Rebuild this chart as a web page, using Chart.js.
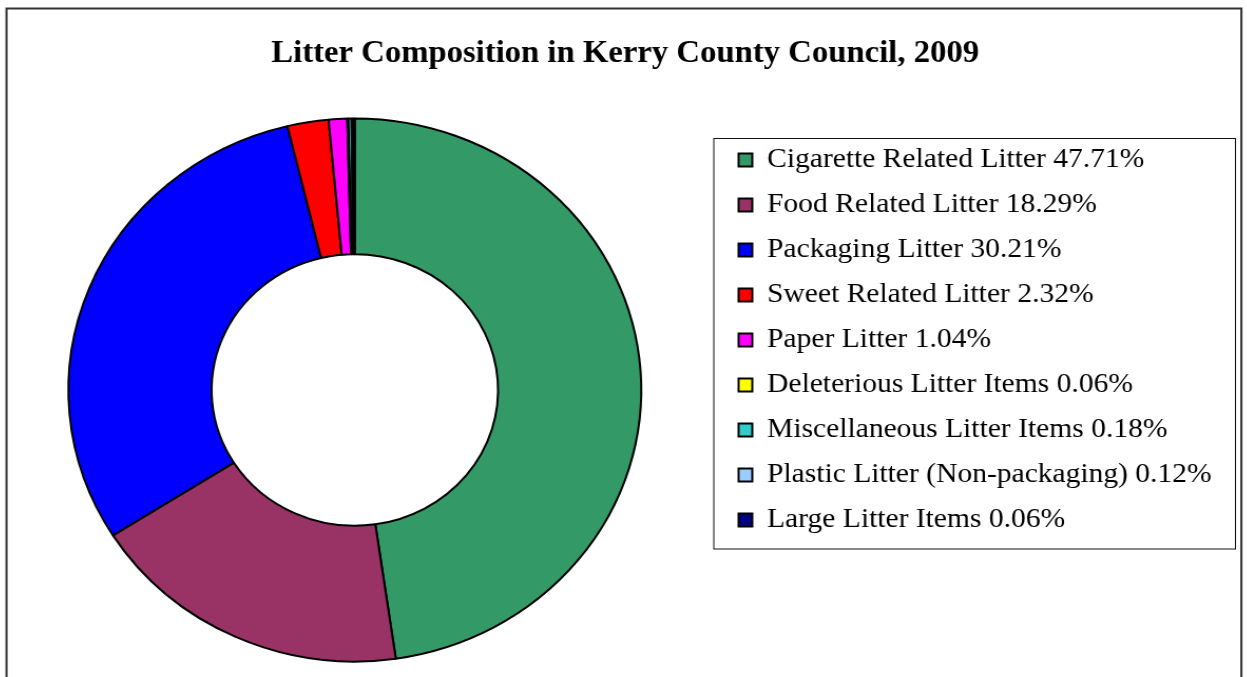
<!DOCTYPE html>
<html>
<head>
<meta charset="utf-8">
<script src="https://cdn.jsdelivr.net/npm/chart.js@4/dist/chart.umd.min.js"></script>
<style>
html, body { margin: 0; padding: 0; background: #fff; overflow: hidden; }
#wrap { position: absolute; left: -10.55px; top: 0; width: 1192px; height: 677px;
        transform: scaleX(1.05499); transform-origin: 0 0; }
</style>
</head>
<body>
<div id="wrap"><canvas id="c"></canvas></div>
<script>
// ---- data ----
const chartTitle = 'Litter Composition in Kerry County Council, 2009';
const categories = [
  'Cigarette Related Litter',
  'Food Related Litter',
  'Packaging Litter',
  'Sweet Related Litter',
  'Paper Litter',
  'Deleterious Litter Items',
  'Miscellaneous Litter Items',
  'Plastic Litter (Non-packaging)',
  'Large Litter Items'
];
const percentages = [47.71, 18.29, 30.21, 2.32, 1.04, 0.06, 0.18, 0.12, 0.06];
const sliceColors = ['#339966', '#993366', '#0000FF', '#FF0000', '#FF00FF',
                     '#FFFF00', '#33CCCC', '#99CCFF', '#000080'];

// ---- decoration: background, outer frame, legend frame ----
const framePlugin = {
  id: 'framePlugin',
  beforeDraw(chart) {
    const ctx = chart.ctx;
    ctx.save();
    ctx.fillStyle = '#ffffff';
    ctx.fillRect(0, 0, chart.width, chart.height);
    ctx.strokeStyle = '#333333';
    ctx.lineWidth = 2;
    ctx.strokeRect(16.6, 8.5, 1170.5, 700);
    ctx.strokeStyle = '#111111';
    ctx.lineWidth = 1;
    ctx.strokeRect(687, 138.5, 494.5, 410.5);
    ctx.restore();
  }
};

// layout (internal, unstretched px)
const W0 = 1192;                // canvas width
const Tc = 603;                 // title centre
const legendLeft = 693.5;       // legend box left (doughnut centre = legendLeft / 2)
const padL = 0;
const padR = padL + W0 - 2 * Tc;

function spacerPadding(w) {
  const s = Math.max(W0 - padR - legendLeft - w, 1);
  return { top: (s - 1) / 2, bottom: (s - 1) / 2 };
}

const chart = new Chart(document.getElementById('c'), {
  type: 'doughnut',
  data: {
    labels: categories,
    datasets: [{
      data: percentages,
      backgroundColor: sliceColors,
      borderColor: '#000000',
      borderWidth: 2,
      clip: false
    }]
  },
  options: {
    responsive: true,
    maintainAspectRatio: false,
    animation: false,
    radius: 271.5,
    cutout: '50%',
    layout: { padding: { left: padL, right: padR, top: 0, bottom: 26 } },
    plugins: {
      title: {
        display: true,
        text: chartTitle,
        color: '#000',
        font: { family: 'Liberation Serif', size: 31, weight: 'bold', lineHeight: 1.2 },
        padding: { top: 35.4, bottom: 56.4 }
      },
      subtitle: {
        display: true,
        text: '',
        position: 'right',
        fullSize: false,
        font: { size: 1, lineHeight: 1 },
        padding: spacerPadding(476)
      },
      legend: {
        position: 'right',
        align: 'start',
        fullSize: false,
        maxWidth: 800,
        labels: {
          color: '#000',
          font: { family: 'Liberation Serif', size: 28 },
          boxWidth: 13,
          boxHeight: 13,
          padding: 17,
          generateLabels(chart) {
            return categories.map((c, i) => ({
              text: c + ' ' + percentages[i].toFixed(2) + '%',
              fillStyle: sliceColors[i],
              strokeStyle: '#000',
              lineWidth: 2,
              fontColor: '#000',
              hidden: false,
              index: i
            }));
          }
        }
      },
      tooltip: { enabled: false }
    }
  },
  plugins: [framePlugin]
});

// second pass: size the right-hand spacer from the legend's measured width
chart.options.plugins.subtitle.padding = spacerPadding(chart.legend.width);
chart.update();
</script>
</body>
</html>
